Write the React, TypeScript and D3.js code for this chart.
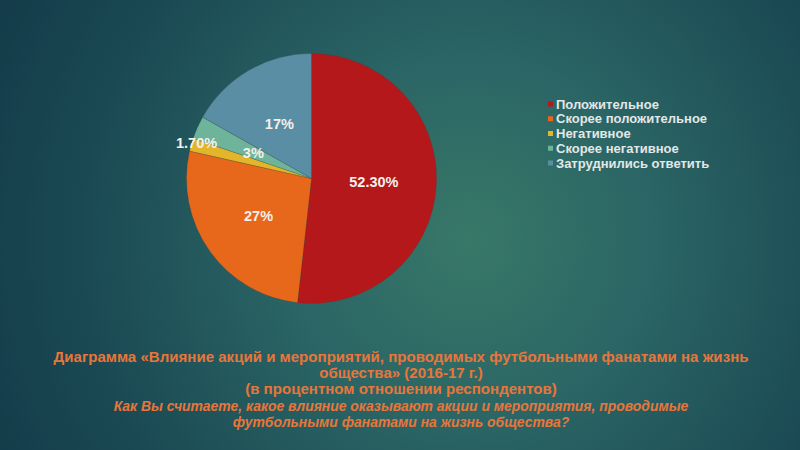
import React from "react";
import * as d3 from "d3";

const categories = ["Положительное", "Скорее положительное", "Негативное", "Скорее негативное", "Затруднились ответить"];
const values = [52.3, 27, 1.7, 3, 17];
const valueLabels = ["52.30%", "27%", "1.70%", "3%", "17%"];
const colors = ["#b5181b", "#e8681b", "#e2b52a", "#6db49a", "#5a8ea5"];
const captionLines = [
  "Диаграмма «Влияние акций и мероприятий, проводимых футбольными фанатами на жизнь",
  "общества» (2016-17 г.)",
  "(в процентном отношении респондентов)",
];
const questionLines = [
  "Как Вы считаете, какое влияние оказывают акции и мероприятия, проводимые",
  "футбольными фанатами на жизнь общества?",
];

const W = 800;
const H = 450;

export default function App() {
  const cx = 311.5;
  const cy = 178.5;
  const r = 125;
  const pie = d3.pie<number>().sort(null).value((d) => d);
  const arcs = pie(values);
  const arc = d3.arc<d3.PieArcDatum<number>>().innerRadius(0).outerRadius(r);
  const labelRadius = [0.5, 0.52, 0.98, 0.51, 0.51];
  const labelShift: [number, number][] = [[0, 0], [0, 0], [3, -2], [0, 0], [0, 0]];
  const legendY = d3.scalePoint<string>().domain(categories).range([104, 163]);
  const font = "'Liberation Sans', Arial, sans-serif";
  const lineY = d3.scaleLinear().domain([0, 4]).range([362, 427]);
  return (
    <svg width={W} height={H} style={{ position: "absolute", left: 0, top: 0, display: "block" }}>
      <defs>
        <radialGradient id="bg" cx="470" cy="240" r="520" gradientUnits="userSpaceOnUse">
          <stop offset="0" stopColor="#387868" />
          <stop offset="0.35" stopColor="#2b6565" />
          <stop offset="0.75" stopColor="#1a4953" />
          <stop offset="1" stopColor="#143c4a" />
        </radialGradient>
      </defs>
      <rect x={0} y={0} width={W} height={H} fill="url(#bg)" />
      <g transform={`translate(${cx},${cy})`}>
        {arcs.map((a, i) => (
          <path key={i} d={arc(a) || ""} fill={colors[i]} stroke="#3a3a3a" strokeOpacity={0.35} strokeWidth={0.6} />
        ))}
        {arcs.map((a, i) => {
          const mid = (a.startAngle + a.endAngle) / 2;
          const rr = r * labelRadius[i];
          const x = Math.sin(mid) * rr + labelShift[i][0];
          const y = -Math.cos(mid) * rr + labelShift[i][1];
          return (
            <text key={i} x={x} y={y} dy="0.35em" textAnchor="middle" fill="#f4f0ea" fontFamily={font} fontWeight="bold" fontSize={14.5}>
              {valueLabels[i]}
            </text>
          );
        })}
      </g>
      {categories.map((c, i) => (
        <g key={c}>
          <rect x={548} y={(legendY(c) || 0) - 2.5} width={5} height={5} fill={colors[i]} />
          <text x={556} y={legendY(c)} dy="0.35em" fill="#e2e8e8" fontFamily={font} fontWeight="bold" fontSize={13}>
            {c}
          </text>
        </g>
      ))}
      <g transform="translate(401,0) scale(1.04,1)">
        {captionLines.map((t, i) => (
          <text key={t} x={0} y={lineY(i)} textAnchor="middle" fill="#e8763a" fontFamily={font} fontWeight="bold" fontSize={14.5}>
            {t}
          </text>
        ))}
      </g>
      <g transform="translate(401,0) scale(0.96,1)">
        {questionLines.map((t, i) => (
          <text key={t} x={0} y={lineY(i + 3)} textAnchor="middle" fill="#e8763a" fontFamily={font} fontWeight="bold" fontStyle="italic" fontSize={14.5}>
            {t}
          </text>
        ))}
      </g>
    </svg>
  );
}
